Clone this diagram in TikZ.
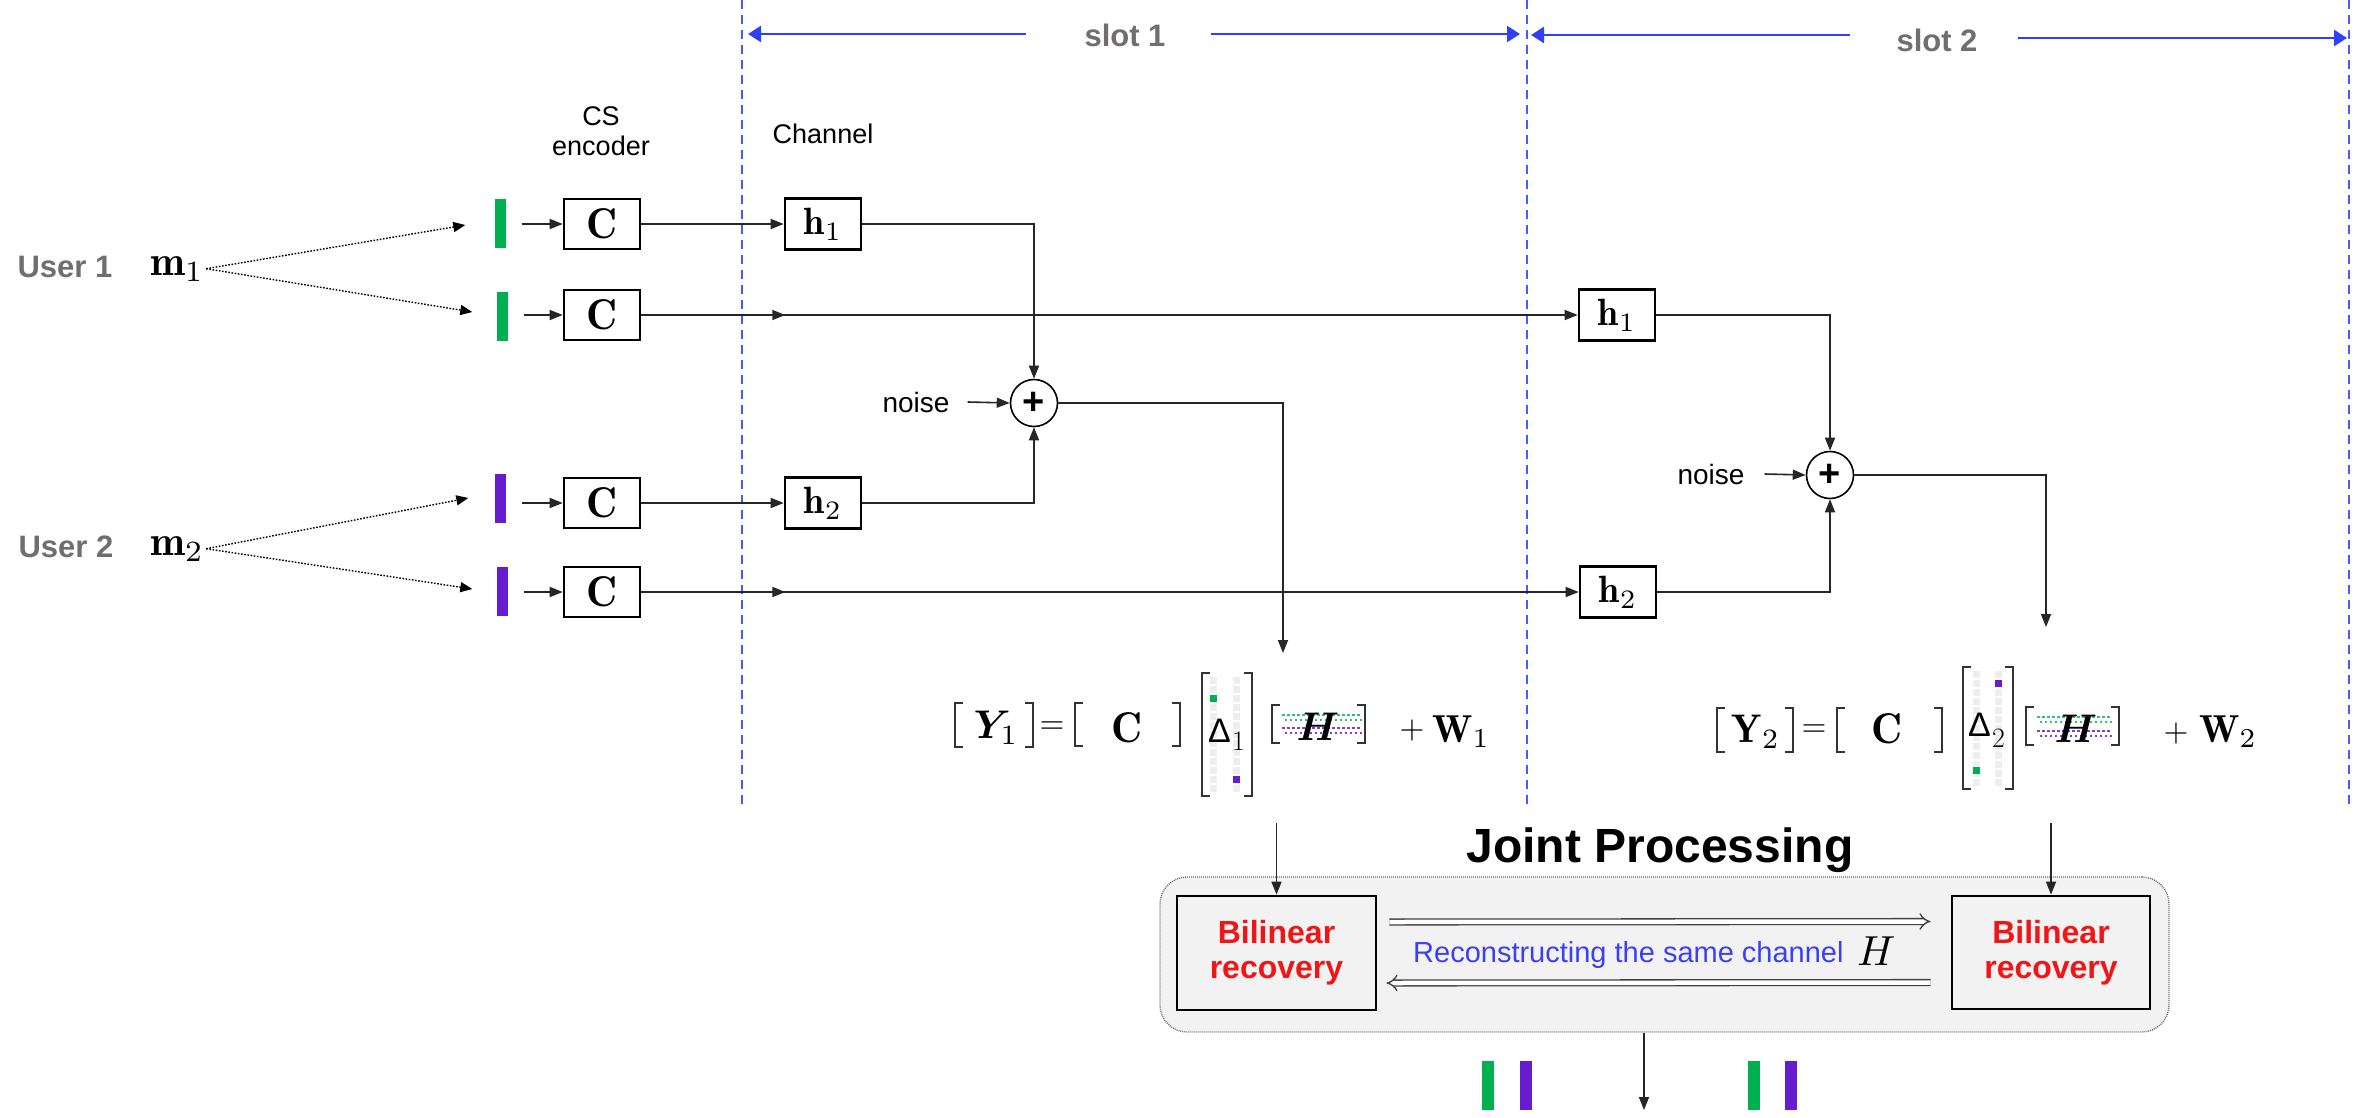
\documentclass[tikz,border=0pt]{standalone}
\usepackage{fontspec}
\setsansfont{Liberation Sans}
\usepackage{bm}
\usepackage{graphicx}
\usetikzlibrary{arrows.meta,decorations.markings}

\definecolor{ugreen}{RGB}{0,176,80}
\definecolor{upurple}{RGB}{104,28,208}
\definecolor{slotblue}{RGB}{48,64,246}
\definecolor{dashblue}{RGB}{70,90,255}
\definecolor{labgray}{RGB}{112,110,110}
\definecolor{recred}{RGB}{238,22,22}
\definecolor{txtblue}{RGB}{60,64,245}
\definecolor{boxgray}{RGB}{242,242,242}
\definecolor{cellgray}{RGB}{238,238,238}

\newcommand{\fsz}[2]{\fontsize{#1}{#2}\selectfont}
\newcommand{\mth}[2]{\scalebox{#1}{$#2$}}
\newcommand{\mylbr}[3]{\draw[brk] ({#1+8},#2) -- (#1,#2) -- (#1,#3) -- ({#1+8},#3);}
\newcommand{\myrbr}[3]{\draw[brk] ({#1-8},#2) -- (#1,#2) -- (#1,#3) -- ({#1-8},#3);}

\begin{document}
\begin{tikzpicture}[x=1pt,y=-1pt,
  conn/.style={line width=1.6pt, black!85, -{Triangle[length=13pt,width=10pt]}},
  midarrow/.style={postaction={decorate}, decoration={markings, mark=at position 144pt with {\arrow{Triangle[length=13pt,width=10pt]}}}},
  blk/.style={draw, line width=2.6pt, minimum width=76pt, minimum height=50pt, inner sep=0pt, fill=white},
  hblk/.style={blk, minimum height=51pt},
  bar/.style={minimum width=11pt, minimum height=49pt, inner sep=0pt},
  dotarr/.style={line width=1.4pt, dash pattern=on 1.6pt off 1.6pt, -{Triangle[length=12pt,width=10pt]}},
  sumn/.style={draw, circle, line width=1.6pt, minimum size=47pt, inner sep=0pt, fill=white, font=\sffamily\bfseries\fsz{38}{38}},
  slotarr/.style={slotblue, line width=2.6pt, -{Triangle[length=13pt,width=16pt]}},
  dline/.style={dashblue, line width=1.4pt, dash pattern=on 9pt off 6pt},
  brk/.style={line width=1.7pt, black!80},
  eqn/.style={inner sep=0pt},
  dbl/.style={draw=black!75, line width=1.3pt, double=white, double distance=4.5pt, -{Implies}},
  cell/.style={fill=cellgray}
]
\useasboundingbox (0,0) rectangle (2356,1117);
\fill[white] (0,0) rectangle (2356,1117);

% slot boundaries
\foreach \x in {742,1527,2349} \draw[dline] (\x,0) -- (\x,807);

% slot labels and arrows
\node[inner sep=0pt, font=\sffamily\bfseries\fsz{31}{31}, text=labgray] (sl1) at (1125,35) {slot 1};
\node[inner sep=0pt, font=\sffamily\bfseries\fsz{31}{31}, text=labgray] (sl2) at (1937,40) {slot 2};
\coordinate (sa1) at (748,34);
\coordinate (sa2) at (1520,34);
\coordinate (sa3) at (1531,35);
\coordinate (sa4) at (2347,38);
\draw[slotarr] ([xshift=-58pt]sl1.west |- sa1) -- (sa1);
\draw[slotarr] ([xshift=45pt]sl1.east |- sa2) -- (sa2);
\draw[slotarr] ([xshift=-46pt]sl2.west |- sa3) -- (sa3);
\draw[slotarr] ([xshift=40pt]sl2.east |- sa4) -- (sa4);

% column headers
\node[inner sep=0pt, font=\sffamily\fsz{27}{27}, anchor=base] (cs) at (601,125) {CS};
\node[inner sep=0pt, font=\sffamily\fsz{27}{27}, anchor=base] (enc) at (601,155) {encoder};
\node[inner sep=0pt, font=\sffamily\fsz{27}{27}, anchor=base] (chn) at (823,143) {Channel};

% users
\node[inner sep=0pt, font=\sffamily\bfseries\fsz{31}{31}, text=labgray, anchor=base] (u1) at (65,277) {User 1};
\node[inner sep=0pt, font=\sffamily\bfseries\fsz{31}{31}, text=labgray, anchor=base] (u2) at (66,557) {User 2};
\node[inner sep=0pt, anchor=base west] (m1) at (150,275) {\mth{4.2}{\mathbf{m}_1}};
\node[inner sep=0pt, anchor=base west] (m2) at (150,555) {\mth{4.2}{\mathbf{m}_2}};

% bars
\node[bar, fill=ugreen] (b1) at (500,223) {};
\node[bar, fill=ugreen] (b2) at (502,316) {};
\node[bar, fill=upurple] (b3) at (500,498) {};
\node[bar, fill=upurple] (b4) at (502,591) {};

\draw[dotarr] ([xshift=2pt]m1.east) -- ([xshift=-29pt,yshift=-2pt]b1.west);
\draw[dotarr] ([xshift=2pt]m1.east) -- ([xshift=-24pt,yshift=4pt]b2.west);
\draw[dotarr] ([xshift=2pt]m2.east) -- ([xshift=-26pt]b3.west);
\draw[dotarr] ([xshift=2pt]m2.east) -- ([xshift=-24pt,yshift=2pt]b4.west);

% CS encoder boxes
\node[blk] (c1) at (602,224) {\mth{4.3}{\mathbf{C}}};
\node[blk] (c2) at (602,315) {\mth{4.3}{\mathbf{C}}};
\node[blk] (c3) at (602,503) {\mth{4.3}{\mathbf{C}}};
\node[blk] (c4) at (602,592) {\mth{4.3}{\mathbf{C}}};

\draw[conn] ([xshift=16pt]b1.east |- c1) -- (c1.west);
\draw[conn] ([xshift=16pt]b2.east |- c2) -- (c2.west);
\draw[conn] ([xshift=16pt]b3.east |- c3) -- (c3.west);
\draw[conn] ([xshift=16pt]b4.east |- c4) -- (c4.west);

% channel boxes
\node[hblk] (h1) at (823,224) {\mth{3.8}{\mathbf{h}_1}};
\node[hblk] (h2) at (823,503) {\mth{3.8}{\mathbf{h}_2}};
\node[hblk] (h1b) at (1617,315) {\mth{3.8}{\mathbf{h}_1}};
\node[hblk] (h2b) at (1618,592) {\mth{3.8}{\mathbf{h}_2}};

\draw[conn] (c1.east) -- (h1.west);
\draw[conn] (c3.east) -- (h2.west);
\draw[conn, midarrow] (c2.east) -- (h1b.west);
\draw[conn, midarrow] (c4.east) -- (h2b.west);

% adders
\node[sumn] (s1) at (1034,403) {+};
\node[sumn] (s2) at (1830,475) {+};
\node[inner sep=0pt, font=\sffamily\fsz{28}{28}, anchor=base] (n1) at (916,412) {noise};
\node[inner sep=0pt, font=\sffamily\fsz{28}{28}, anchor=base] (n2) at (1711,484) {noise};

\draw[conn] (h1.east) -| (s1.north);
\draw[conn] (h2.east) -| (s1.south);
\draw[conn] (h1b.east) -| (s2.north);
\draw[conn] (h2b.east) -| (s2.south);
\draw[conn] ([xshift=18pt]n1.east) -- (s1.west);
\draw[conn] ([xshift=20pt]n2.east) -- (s2.west);

\coordinate (o1) at (1283,653);
\coordinate (o2) at (2046,627);
\draw[conn] (s1.east) -| (o1);
\draw[conn] (s2.east) -| (o2);

% ---------- equation 1 ----------
\mylbr{955}{703}{747} \myrbr{1033}{703}{747}
\node[eqn, anchor=base] (ey1) at (996,738) {\mth{4.0}{\bm{Y}_1}};
\node[eqn] (eq1) at (1052,728) {\mth{3.2}{=}};
\mylbr{1075}{703}{746} \myrbr{1180}{703}{746}
\node[eqn, anchor=base] (ec1) at (1127,742) {\mth{4.3}{\mathbf{C}}};
% Delta 1
\foreach \k in {0,...,12} {
  \fill[cell] (1210,{676.5+9*\k}) rectangle (1217,{683.5+9*\k});
  \fill[cell] (1232.5,{676.5+9*\k}) rectangle (1239.5,{683.5+9*\k});
}
\fill[ugreen] (1210,694.5) rectangle (1217,701.5);
\fill[upurple] (1232.5,775.5) rectangle (1239.5,782.5);
\mylbr{1202}{673}{796} \myrbr{1252}{673}{796}
\node[eqn, anchor=base west, font=\sffamily\fsz{34}{34}] (ed1) at (1208,742) {Δ};
\node[eqn, anchor=base west, font=\fsz{28}{28}] (ed1s) at (1232,750) {1};
% H 1
\foreach \k in {0,...,15} {
  \fill[ugreen!80] ({1282+5*\k},713.7) rectangle +(2.6,2.6);
  \fill[ugreen!80] ({1284.5+5*\k},718.7) rectangle +(2.6,2.6);
  \fill[upurple!85] ({1282+5*\k},726.7) rectangle +(2.6,2.6);
  \fill[upurple!85] ({1284.5+5*\k},731.7) rectangle +(2.6,2.6);
}
\mylbr{1272}{705}{743} \myrbr{1365}{705}{743}
\node[eqn, anchor=base] (eh1) at (1318,740) {\mth{4.0}{\bm{H}}};
\node[eqn] (ep1) at (1412,730) {\mth{3.2}{+}};
\node[eqn, anchor=base west] (ew1) at (1432,742) {\mth{3.9}{\mathbf{W}_1}};

% ---------- equation 2 ----------
\mylbr{1717}{708}{752} \myrbr{1793}{708}{752}
\node[eqn, anchor=base] (ey2) at (1756,742) {\mth{4.0}{\mathbf{Y}_2}};
\node[eqn] (eq2) at (1814,731) {\mth{3.2}{=}};
\mylbr{1837}{708}{752} \myrbr{1942}{708}{752}
\node[eqn, anchor=base] (ec2) at (1887,743) {\mth{4.3}{\mathbf{C}}};
% Delta 2
\foreach \k in {0,...,12} {
  \fill[cell] (1972.5,{670.5+9*\k}) rectangle (1979.5,{677.5+9*\k});
  \fill[cell] (1994.5,{670.5+9*\k}) rectangle (2001.5,{677.5+9*\k});
}
\fill[upurple] (1994.5,679.5) rectangle (2001.5,686.5);
\fill[ugreen] (1972.5,766.5) rectangle (1979.5,773.5);
\mylbr{1963}{667}{789} \myrbr{2013}{667}{789}
\node[eqn, anchor=base west, font=\sffamily\fsz{34}{34}] (ed2) at (1968,736) {Δ};
\node[eqn, anchor=base west, font=\fsz{28}{28}] (ed2s) at (1992,747) {2};
% H 2
\foreach \k in {0,...,14} {
  \fill[ugreen!80] ({2037+5*\k},715.7) rectangle +(2.6,2.6);
  \fill[ugreen!80] ({2039.5+5*\k},720.7) rectangle +(2.6,2.6);
  \fill[upurple!85] ({2037+5*\k},729.7) rectangle +(2.6,2.6);
  \fill[upurple!85] ({2039.5+5*\k},734.7) rectangle +(2.6,2.6);
}
\mylbr{2026}{707}{745} \myrbr{2119}{707}{745}
\node[eqn, anchor=base] (eh2) at (2076,742) {\mth{4.0}{\bm{H}}};
\node[eqn] (ep2) at (2176,733) {\mth{3.2}{+}};
\node[eqn, anchor=base west] (ew2) at (2199,742) {\mth{3.9}{\mathbf{W}_2}};

% ---------- joint processing ----------
\node[inner sep=0pt, font=\sffamily\bfseries\fsz{48}{48}, anchor=base] (jt) at (1660,862) {Joint Processing};
\node[draw=black!55, dash pattern=on 1pt off 1pt, line width=1.4pt, fill=boxgray, rounded corners=27pt, minimum width=1009pt, minimum height=155pt, inner sep=0pt] (jp) at (1664.5,954.5) {};
\node[draw, line width=2.8pt, fill=boxgray, minimum width=199pt, minimum height=114pt, inner sep=0pt, align=center, font=\sffamily\bfseries\fsz{32}{35}, text=recred] (bl1) at (1276.5,953) {Bilinear\\recovery};
\node[draw, line width=2.8pt, fill=boxgray, minimum width=198pt, minimum height=113pt, inner sep=0pt, align=center, font=\sffamily\bfseries\fsz{32}{35}, text=recred] (bl2) at (2051,952.5) {Bilinear\\recovery};

\draw[dbl] ([xshift=12pt,yshift=31pt]bl1.east) -- ([xshift=-20pt,yshift=31pt]bl2.west);
\draw[dbl] ([xshift=-20pt,yshift=-30pt]bl2.west) -- ([xshift=9pt,yshift=-30pt]bl1.east);

\node[inner sep=0pt, anchor=base west, font=\sffamily\fsz{29}{29}, text=txtblue] (rc) at (1413,962) {Reconstructing the same channel};
\node[inner sep=0pt, anchor=base west] (rh) at (1857,965) {\mth{4.2}{H}};

\coordinate (i1) at (1276.5,823);
\coordinate (i2) at (2051,823);
\draw[conn] (i1) -- (bl1.north);
\draw[conn] (i2) -- (bl2.north);

\coordinate (fo) at (1644,1110);
\draw[conn] (jp.south -| fo) -- (fo);

% recovered messages
\node[bar, minimum width=12pt, fill=ugreen] (r1) at (1488,1085) {};
\node[bar, minimum width=12pt, fill=upurple] (r2) at (1526,1085) {};
\node[bar, minimum width=12pt, fill=ugreen] (r3) at (1754,1085) {};
\node[bar, minimum width=12pt, fill=upurple] (r4) at (1791,1085) {};
\end{tikzpicture}
\end{document}
